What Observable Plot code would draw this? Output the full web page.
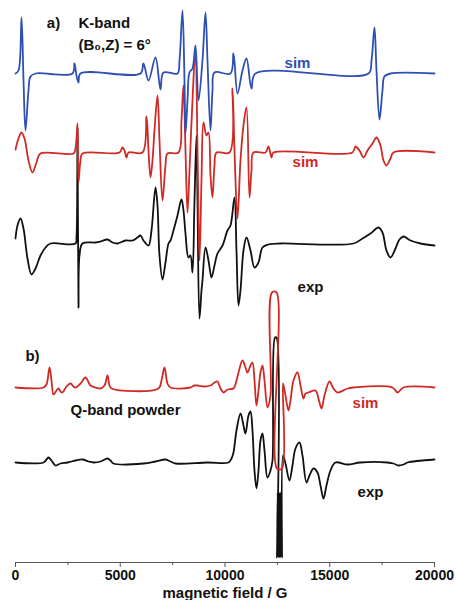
<!DOCTYPE html>
<html><head><meta charset="utf-8">
<script src="https://cdn.jsdelivr.net/npm/d3@7"></script>
<script src="https://cdn.jsdelivr.net/npm/@observablehq/plot@0.6"></script>
<style>body{margin:0;background:#fff}</style>
</head><body><div id="chart"></div>
<script>
// magnetic field (G), intensity (arb. units, relative to each trace baseline)
const kBandSim = [[0,0],[143,3],[286,56],[382,-7],[477,-57],[620,-17],[716,-3],[955,0],[2721,0],[2816,10],[2912,-2],[3007,-9],[3102,0],[5966,0],[6109,10],[6348,-7],[6682,16],[6921,-16],[7064,1],[7732,0],[7828,13],[7971,63],[8066,-7],[8114,-60],[8210,-27],[8305,1],[8448,5],[8591,28],[8735,-27],[8925,13],[9069,61],[9164,13],[9307,-57],[9403,-17],[9498,1],[10262,0],[10405,20],[10596,-20],[10835,3],[11026,15],[11264,-15],[11455,0],[16849,0],[16992,13],[17135,46],[17231,3],[17374,-46],[17517,-17],[17612,-3],[17899,0],[20000,0]];

const kBandSimRed = [[0,3],[143,14],[286,20],[430,14],[620,-8],[811,-20],[1002,-10],[1193,-1],[2768,-1],[2864,4],[2959,29],[3007,-30],[3102,-8],[3198,-1],[4964,0],[5107,5],[5203,2],[5298,-5],[5393,0],[6062,0],[6253,36],[6348,2],[6444,-25],[6539,-8],[6634,22],[6778,57],[6873,12],[7016,-48],[7160,-13],[7255,-1],[7780,0],[7923,32],[8019,67],[8114,2],[8210,-60],[8305,-18],[8448,52],[8591,104],[8687,2],[8782,-108],[8878,-28],[8973,30],[9116,17],[9212,20],[9307,-23],[9403,-45],[9498,-13],[9594,0],[10214,0],[10357,64],[10453,2],[10596,-66],[10739,-8],[10882,27],[11026,45],[11169,-45],[11264,-18],[11360,0],[11933,0],[12076,6],[12219,-5],[12314,0],[16085,0],[16228,6],[16419,2],[16610,-5],[16801,2],[17040,9],[17231,15],[17422,7],[17565,-8],[17708,-13],[17899,-6],[18042,0],[20000,0]];

const kBandExp = [[0,5],[95,18],[239,25],[382,15],[573,-15],[764,-31],[955,-25],[1193,-12],[1432,-4],[1671,0],[2864,0],[2912,7],[2959,115],[3007,-64],[3055,-12],[3198,0],[3818,1],[4057,2],[4391,4],[4630,1],[4869,0],[5250,3],[5584,3],[5823,6],[5966,8],[6109,3],[6348,-2],[6491,13],[6682,56],[6778,38],[6873,-12],[7016,-36],[7160,-19],[7303,0],[7398,3],[7541,13],[7732,28],[7923,44],[8019,33],[8114,10],[8257,-14],[8353,-12],[8448,-29],[8544,43],[8639,108],[8687,43],[8782,-75],[8878,-47],[8925,-37],[9069,-4],[9212,-17],[9355,-34],[9498,-22],[9641,-10],[9880,-2],[10119,13],[10262,18],[10453,46],[10548,-7],[10644,-62],[10739,-47],[10882,-7],[11026,6],[11217,-7],[11408,-24],[11599,-19],[11789,-4],[12076,-1],[12648,0],[16133,0],[16563,5],[16944,10],[17326,16],[17517,11],[17708,-7],[17899,-14],[18137,-5],[18328,4],[18519,7],[18853,3],[19331,0],[20000,-2]];

const qBandSim = [[0,0],[1336,0],[1480,3],[1623,20],[1718,7],[1814,-7],[1957,-3],[2052,-1],[2148,-4],[2243,-5],[2434,1],[2625,4],[2768,1],[2864,0],[3102,4],[3341,10],[3580,2],[3818,0],[4057,-1],[4248,2],[4391,12],[4487,2],[4582,-1],[6825,-1],[6969,7],[7112,20],[7255,4],[7398,0],[8353,0],[8544,2],[8687,2],[8973,1],[9307,2],[9498,5],[9641,6],[9784,-1],[9927,-5],[10119,-2],[10405,-1],[10548,7],[10644,15],[10835,27],[10978,20],[11073,15],[11217,22],[11312,25],[11408,7],[11503,-18],[11599,-3],[11694,15],[11789,22],[11885,7],[12028,-20],[12171,-8],[12243,95],[12458,95],[12482,-81],[12720,-81],[12768,4],[12887,-8],[13030,-23],[13126,-13],[13269,7],[13460,15],[13603,2],[13746,-11],[13842,-6],[13985,-5],[14319,-3],[14462,-11],[14605,-21],[14748,-8],[14987,6],[15178,-1],[15369,-5],[15846,-1],[16133,0],[17994,0],[18233,-5],[18519,0],[20000,0]];

const qBandExp = [[0,0],[1336,0],[1480,3],[1575,5],[1718,2],[1909,-3],[2148,-1],[2482,0],[2864,2],[3198,3],[3484,1],[3723,0],[4057,1],[4391,4],[4534,2],[4678,-1],[6109,-1],[6682,1],[7160,3],[7398,1],[7637,-1],[9164,0],[10167,0],[10310,4],[10405,10],[10548,32],[10739,49],[10882,37],[10978,29],[11121,47],[11217,51],[11312,32],[11408,-8],[11503,-26],[11599,-8],[11694,22],[11789,29],[11885,12],[12028,-15],[12171,-8],[12267,2],[12386,125],[12458,125],[12482,-95],[12515,-30],[12545,-95],[12575,-30],[12605,-95],[12635,-30],[12665,-95],[12695,-30],[12720,-95],[12768,7],[12887,-1],[13078,-18],[13221,-3],[13364,14],[13555,20],[13698,7],[13889,-20],[14033,-13],[14224,-6],[14415,-10],[14558,-23],[14701,-36],[14844,-23],[15035,-8],[15274,0],[15846,-2],[16467,0],[17756,0],[18042,-1],[18280,-3],[18519,-2],[18710,0],[20000,3]];

// vertical stacking offsets of the spectra
const offsetKSim = 489, offsetKSimRed = 410, offsetKExp = 319, offsetQSim = 175, offsetQExp = 100;
const majorTicks = [0, 5000, 10000, 15000, 20000];
const minorTicks = [2500, 7500, 12500, 17500];

const BLUE = "#2f4fb3", RED = "#cf2a26", BLACK = "#111";
const FONT = "'Liberation Sans', Arial, sans-serif";
const shift = (arr, off) => arr.map(([f, v]) => ({field: f, y: v + off}));

const lineOpts = (color) => ({x: "field", y: "y", stroke: color, strokeWidth: 1.8, curve: "catmull-rom"});
const lab = (t, x, y, color, anchor = "middle", size = 15) =>
  Plot.text([{x, y, t}], {x: "x", y: "y", text: "t", fill: color, fontSize: size, fontWeight: "bold", textAnchor: anchor, lineAnchor: "middle"});

const plot = Plot.plot({
  width: 456, height: 600,
  marginLeft: 15, marginRight: 22, marginTop: 0, marginBottom: 38,
  style: {fontFamily: FONT, fontWeight: "bold", fontSize: "15px", color: "#111", background: "#fff"},
  x: {domain: [0, 20000]},
  y: {domain: [0, 562], axis: null},
  marks: [
    Plot.ruleY([0], {stroke: "#555", strokeWidth: 1.2}),
    Plot.axisX({ticks: minorTicks, tickSize: 3, tickFormat: () => "", label: null, stroke: "#555"}),
    Plot.axisX({ticks: majorTicks, tickSize: 5, tickPadding: 3, tickFormat: d => String(d), label: null, stroke: "#555", fontSize: 14, fontWeight: "bold", fill: "#111"}),
    Plot.text(["magnetic field / G"], {frameAnchor: "bottom", dy: 31, fontSize: 15, fontWeight: "bold", fill: "#111", lineAnchor: "middle"}),
    Plot.line(shift(kBandExp, offsetKExp), lineOpts(BLACK)),
    Plot.line(shift(qBandExp, offsetQExp), lineOpts(BLACK)),
    Plot.line(shift(kBandSimRed, offsetKSimRed), lineOpts(RED)),
    Plot.line(shift(qBandSim, offsetQSim), lineOpts(RED)),
    Plot.line(shift(kBandSim, offsetKSim), lineOpts(BLUE)),
    lab("a)", 1814, 539, BLACK),
    lab("K-band", 3007, 539, BLACK, "start"),
    lab("(B\u2080,Z) = 6\u00b0", 3007, 517, BLACK, "start"),
    lab("sim", 13460, 499, BLUE),
    lab("sim", 13842, 400, RED),
    lab("exp", 14080, 275, BLACK),
    lab("b)", 811, 206, BLACK),
    lab("Q-band powder", 2625, 152, BLACK, "start"),
    lab("sim", 16706, 159, RED),
    lab("exp", 16944, 70, BLACK)
  ]
});
document.getElementById("chart").appendChild(plot);
</script>
</body></html>
